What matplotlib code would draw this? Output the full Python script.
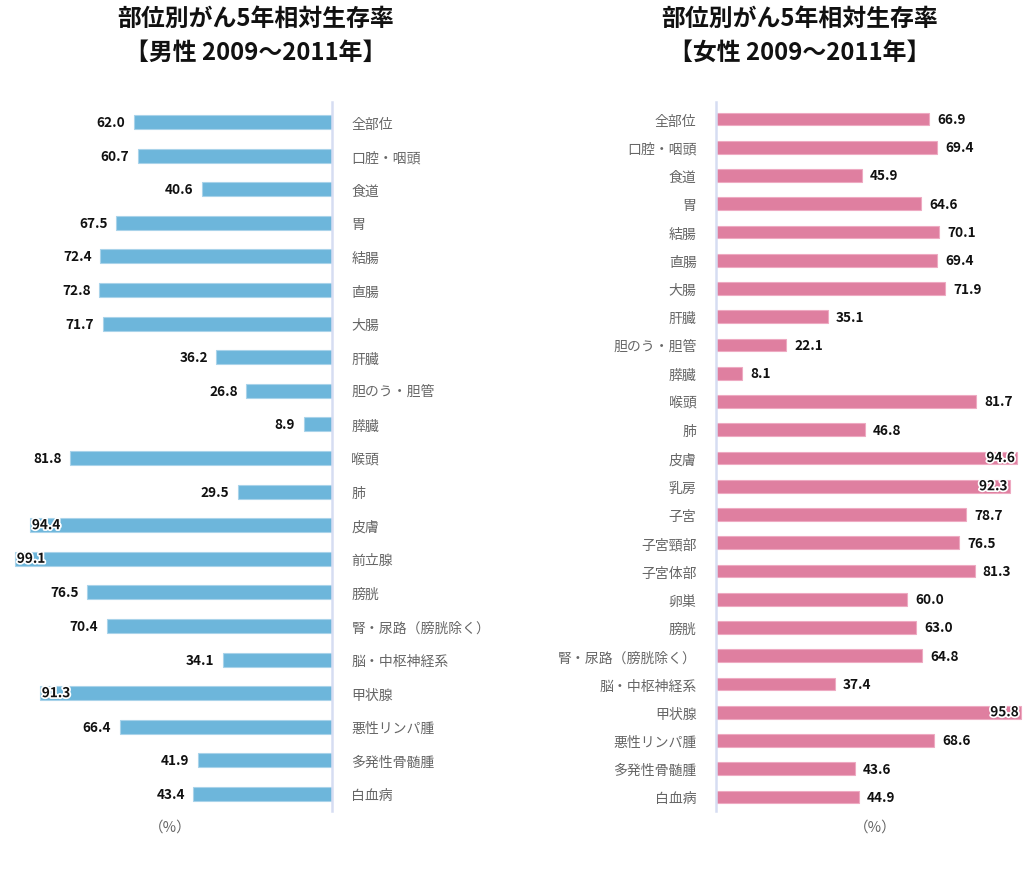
import matplotlib
matplotlib.use('Agg')
import matplotlib.pyplot as plt
import matplotlib.patheffects as pe

plt.rcParams['font.family'] = ['Noto Sans CJK JP', 'DejaVu Sans']

# 男性
male_sites = ['全部位', '口腔・咽頭', '食道', '胃', '結腸', '直腸', '大腸', '肝臓',
              '胆のう・胆管', '膵臓', '喉頭', '肺', '皮膚', '前立腺', '膀胱',
              '腎・尿路（膀胱除く）', '脳・中枢神経系', '甲状腺', '悪性リンパ腫',
              '多発性骨髄腫', '白血病']
male_rates = [62.0, 60.7, 40.6, 67.5, 72.4, 72.8, 71.7, 36.2, 26.8, 8.9, 81.8,
              29.5, 94.4, 99.1, 76.5, 70.4, 34.1, 91.3, 66.4, 41.9, 43.4]

# 女性
female_sites = ['全部位', '口腔・咽頭', '食道', '胃', '結腸', '直腸', '大腸', '肝臓',
                '胆のう・胆管', '膵臓', '喉頭', '肺', '皮膚', '乳房', '子宮',
                '子宮頸部', '子宮体部', '卵巣', '膀胱', '腎・尿路（膀胱除く）',
                '脳・中枢神経系', '甲状腺', '悪性リンパ腫', '多発性骨髄腫', '白血病']
female_rates = [66.9, 69.4, 45.9, 64.6, 70.1, 69.4, 71.9, 35.1, 22.1, 8.1, 81.7,
                46.8, 94.6, 92.3, 78.7, 76.5, 81.3, 60.0, 63.0, 64.8, 37.4, 95.8,
                68.6, 43.6, 44.9]

W, H = 1024, 887
PX = 3.2  # pixels per percent
BLUE = '#6db6db'
PINK = '#df7fa0'
AXIS = '#d6ddf2'
GRAY = '#666666'

fig = plt.figure(figsize=(W / 100, H / 100), dpi=100)

def make_ax(x0, x1, y_top, y_bot):
    return fig.add_axes([x0 / W, 1 - y_bot / H, (x1 - x0) / W, (y_bot - y_top) / H])

halo = [pe.withStroke(linewidth=2.5, foreground='white')]

# ---- left panel (male) ----
ax1 = make_ax(0, 332, 103, 812)
n1 = len(male_sites)
ax1.barh(range(n1), male_rates, height=0.42, color=BLUE, edgecolor='#a9d3ea', linewidth=0.8)
ax1.set_xlim(332 / PX, 0)
sp1 = 33.6
ax1.set_ylim(n1 - 1 + (812 - 795) / sp1, -(123 - 103) / sp1)
ax1.set_yticks(range(n1))
ax1.set_yticklabels(male_sites, fontsize=10, color=GRAY)
ax1.yaxis.tick_right()
ax1.tick_params(axis='y', length=0, pad=14)
ax1.set_xticks([])
for s in ['top', 'bottom', 'left']:
    ax1.spines[s].set_visible(False)
ax1.spines['right'].set_color(AXIS)
ax1.spines['right'].set_linewidth(1.8)
for i, v in enumerate(male_rates):
    if v > 90:
        ax1.text(v - 0.6, i, f'{v:.1f}', ha='left', va='center', fontsize=9.8,
                 fontweight='bold', color='#111111', path_effects=halo)
    else:
        ax1.text(v + 2.6, i, f'{v:.1f}', ha='right', va='center', fontsize=9.8,
                 fontweight='bold', color='#111111')

# ---- right panel (female) ----
ax2 = make_ax(716, 1024, 103, 812)
n2 = len(female_sites)
ax2.barh(range(n2), female_rates, height=0.46, color=PINK, edgecolor='#eeaac2', linewidth=0.8)
ax2.set_xlim(0, 308 / 3.18)
sp2 = 28.25
ax2.set_ylim(n2 - 1 + (812 - 798) / sp2, -(120 - 103) / sp2)
ax2.set_yticks(range(n2))
ax2.set_yticklabels(female_sites, fontsize=10, color=GRAY)
ax2.tick_params(axis='y', length=0, pad=14)
ax2.set_xticks([])
for s in ['top', 'bottom', 'right']:
    ax2.spines[s].set_visible(False)
ax2.spines['left'].set_color(AXIS)
ax2.spines['left'].set_linewidth(1.8)
for i, v in enumerate(female_rates):
    if v > 90:
        ax2.text(v - 0.6, i, f'{v:.1f}', ha='right', va='center', fontsize=9.8,
                 fontweight='bold', color='#111111', path_effects=halo)
    else:
        ax2.text(v + 2.6, i, f'{v:.1f}', ha='left', va='center', fontsize=9.8,
                 fontweight='bold', color='#111111')

# titles
for cx, sex in [(256, '男性'), (800, '女性')]:
    fig.text(cx / W, 1 - 19 / H, '部位別がん5年相対生存率', ha='center', va='center',
             fontsize=17.2, fontweight='bold', color='#111111')
    fig.text(cx / W, 1 - 53 / H, f'【{sex} 2009～2011年】', ha='center', va='center',
             fontsize=17.2, fontweight='bold', color='#111111')

# unit labels
fig.text(170 / W, 1 - 828 / H, '（%）', ha='center', va='center', fontsize=10.5, color=GRAY)
fig.text(875 / W, 1 - 828 / H, '（%）', ha='center', va='center', fontsize=10.5, color=GRAY)

fig.savefig('out.png', dpi=100, facecolor='white')
